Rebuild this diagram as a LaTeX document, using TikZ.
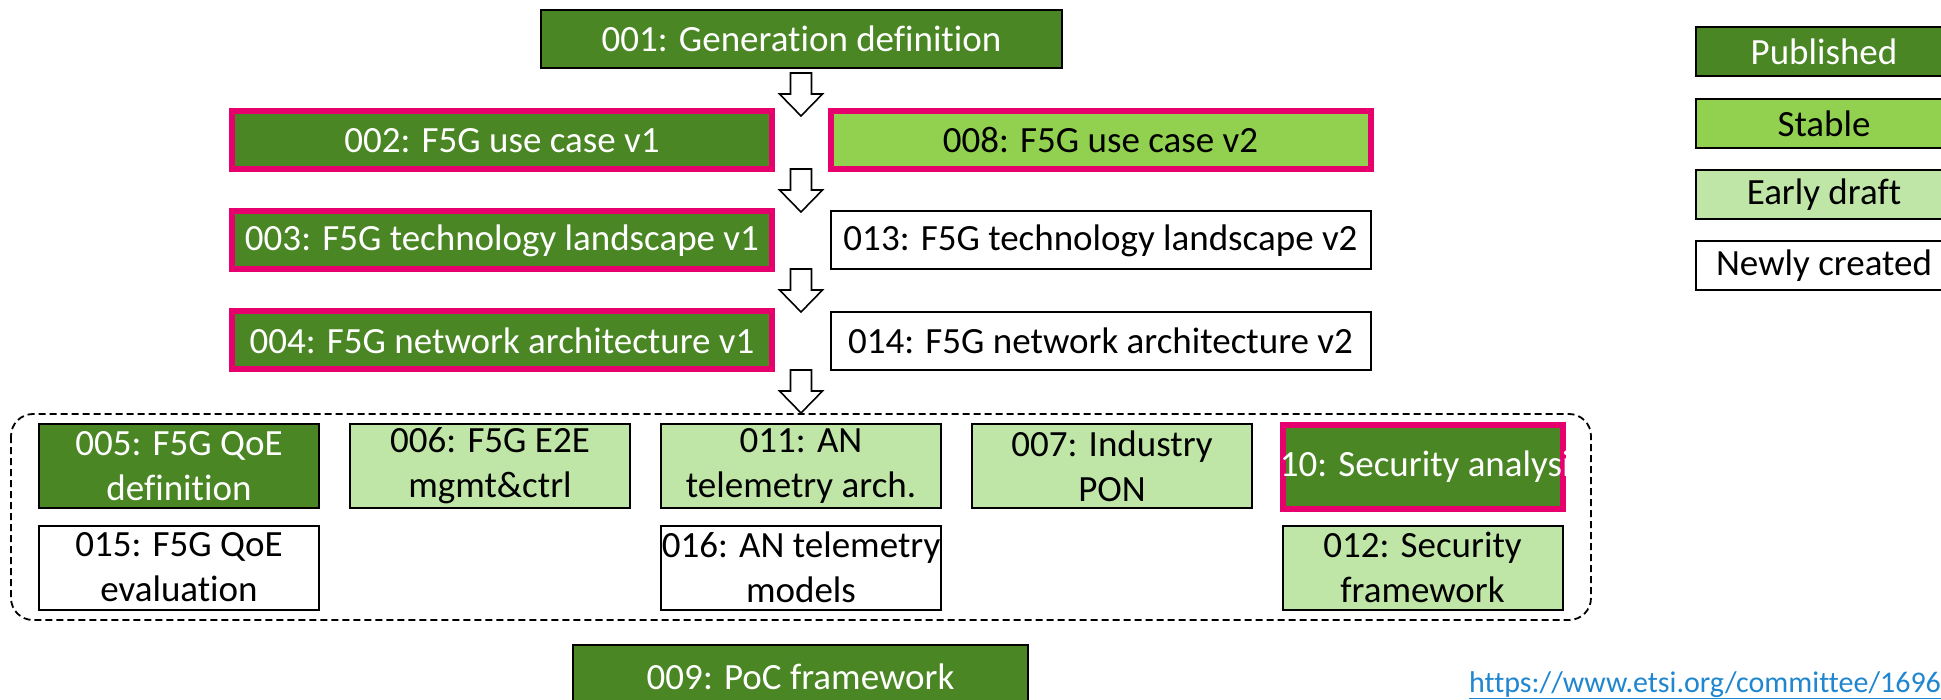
\documentclass[tikz,border=0pt]{standalone}
\usepackage{fontspec}
\setmainfont{Carlito}[Ligatures=NoCommon]
\usepackage{xcolor}
\definecolor{pubgreen}{HTML}{4A8624}
\definecolor{stablegreen}{HTML}{92D050}
\definecolor{draftgreen}{HTML}{BFE6A6}
\definecolor{hotpink}{HTML}{E6006E}
\definecolor{linkblue}{HTML}{1F86CF}
\newcommand{\docfont}{\fontsize{37}{45}\selectfont}
\tikzstyle{doc}=[draw=black, line width=2pt, inner sep=0pt, align=center, text=black, font=\docfont]
\tikzstyle{published}=[doc, fill=pubgreen, text=white]
\tikzstyle{stable}=[doc, fill=stablegreen]
\tikzstyle{draft}=[doc, fill=draftgreen]
\tikzstyle{newdoc}=[doc, fill=white]
\tikzstyle{hot}=[draw=hotpink, line width=6pt]
\tikzstyle{wide}=[minimum width=540pt, minimum height=58pt]
\tikzstyle{small}=[minimum width=280pt, minimum height=84pt]
\tikzstyle{legend}=[minimum width=256pt, minimum height=49pt]
\tikzstyle{blockarrow}=[draw=black, line width=1.6pt, fill=white, line join=miter]

\begin{document}
\begin{tikzpicture}[x=1pt,y=-1pt]
\useasboundingbox (0,0) rectangle (1941,700);
% v1 chain
\node[published, minimum width=521pt, minimum height=58pt] (gr001) at (801.5,39) {001: Generation definition};
\node[published, hot, wide] (gr002) at (502,140.5) {002: F5G use case v1};
\node[stable, hot, wide] (gr008) at (1100.5,140.5) {008: F5G use case v2};
\node[published, hot, wide] (gr003) at (502,240.5) {003: F5G technology landscape v1};
\node[newdoc, wide] (gr013) at (1100.5,240.5) {013: F5G technology landscape v2};
\node[published, hot, wide] (gr004) at (502,340.5) {004: F5G network architecture v1};
\node[newdoc, wide] (gr014) at (1100.5,341) {014: F5G network architecture v2};
\foreach \a/\b in {gr002/gr008, gr003/gr013, gr004/gr014} {
	\draw[white, line width=2pt] (\a.east) -- (\b.west);
}
\foreach \y in {73,169,269,370} {
	\draw[blockarrow] (790.5,\y) -- ++(21,0) -- ++(0,21) -- ++(11,0) -- ++(-21.5,22) -- ++(-21.5,-22) -- ++(11,0) -- cycle;
}
% group
\draw[line width=1.8pt, dash pattern=on 7pt off 4pt, rounded corners=22pt] (11,414) rectangle (1591,620);
\node[published, small] (gr005) at (179,466) {005: F5G QoE\\definition};
\node[draft, small] (gr006) at (490,466) {006: F5G E2E\\mgmt\&ctrl};
\node[draft, small] (gr011) at (801,466) {011: AN\\telemetry arch.};
\node[draft, small] (gr007) at (1112,466) {007: Industry\\PON};
\node[published, hot, small] (gr010) at (1423,466.5) {};
\begin{scope}
	\clip (gr010.north west) rectangle (gr010.south east);
	\node[doc, draw=none, text=white] at (gr010) {010: Security analysis};
\end{scope}
\node[newdoc, small] (gr015) at (179,567.5) {015: F5G QoE\\evaluation};
\node[newdoc, small] (gr016) at (801,567.5) {016: AN telemetry\\models};
\node[draft, small] (gr012) at (1422.5,567.5) {012: Security\\framework};
\node[published, minimum width=455pt, minimum height=64pt] (gr009) at (800.5,677) {009: PoC framework};
% legend
\node[published, legend] (lpub) at (1824,52) {Published};
\node[stable, legend] (lstab) at (1824,123.5) {Stable};
\node[draft, legend] (ldraft) at (1824,194.5) {Early draft};
\node[newdoc, legend] (lnew) at (1824,266) {Newly created};
\node[anchor=base west, inner sep=0pt, text=linkblue, font=\fontsize{30}{36}\selectfont] (url) at (1469,692) {\underline{https://www.etsi.org/committee/1696}};
\end{tikzpicture}
\end{document}
